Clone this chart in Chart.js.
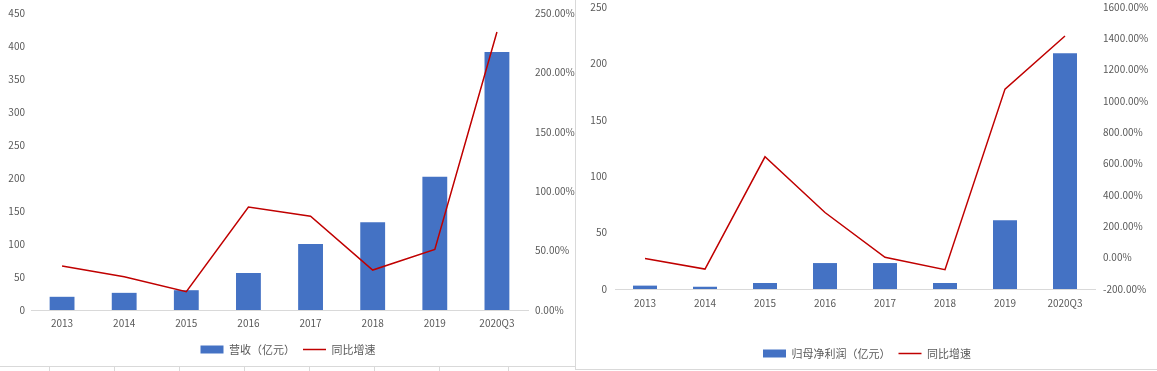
<!DOCTYPE html>
<html>
<head>
<meta charset="utf-8">
<script src="https://cdn.jsdelivr.net/npm/chart.js@4"></script>
<style>
  body { margin: 0; background: #fff; }
  #wrap { position: relative; width: 1157px; height: 371px; overflow: hidden; }
  #left { position: absolute; left: 0; top: 0; width: 576px; height: 371px; }
  #right { position: absolute; left: 577px; top: -7px; width: 580px; height: 378px; }
  .vline { position: absolute; left: 575px; top: 0; width: 1px; height: 370px; background: #d9d9d9; }
  .hline1 { position: absolute; left: 0; top: 366px; width: 575px; height: 1px; background: #d9d9d9; }
  .hline2 { position: absolute; left: 575px; top: 369px; width: 582px; height: 1px; background: #d9d9d9; }
  .tick { position: absolute; top: 366px; width: 1px; height: 5px; background: #d9d9d9; }
</style>
</head>
<body>
<div id="wrap">
  <canvas id="left" width="576" height="371"></canvas>
  <canvas id="right" width="580" height="378"></canvas>
  <div class="vline"></div>
  <div class="hline1"></div>
  <div class="hline2"></div>
</div>
<script>
// categories
const years = ['2013', '2014', '2015', '2016', '2017', '2018', '2019', '2020Q3'];

// left: revenue (亿元) and yoy growth (%)
const revenue = [20, 26, 30, 56, 100, 133, 202, 391];
const revenueGrowth = [37, 28, 15.4, 86.7, 79, 33.6, 51, 234];

// right: net profit attributable to parent (亿元) and yoy growth (%)
const netProfit = [3, 2, 5.3, 23, 23, 5.3, 61, 209];
const profitGrowth = [-5, -73, 644, 288, 2, -77, 1076, 1415];

// spreadsheet cell gridline ticks under the left chart
[49, 114, 179, 244, 309, 374, 439, 508].forEach(x => {
    const d = document.createElement('div');
    d.className = 'tick';
    d.style.left = x + 'px';
    document.getElementById('wrap').appendChild(d);
});

const FONT = "'Noto Sans CJK SC', 'Noto Sans', sans-serif";
const TXT = '#595959';
const BLUE = '#4472C4';
const RED = '#C00000';

function makeChart(id, opts) {
    const ctx = document.getElementById(id).getContext('2d');
    return new Chart(ctx, {
        type: 'bar',
        data: {
            labels: years,
            datasets: [{
                type: 'bar',
                label: opts.barLabel,
                data: opts.bars,
                backgroundColor: BLUE,
                borderWidth: 0,
                barPercentage: 0.4,
                categoryPercentage: 1,
                pointStyle: 'rect',
                yAxisID: 'y',
                order: 1
            }, {
                type: 'line',
                label: '同比增速',
                data: opts.line,
                borderColor: RED,
                backgroundColor: RED,
                borderWidth: 1.5,
                pointRadius: 0,
                pointStyle: 'line',
                tension: 0,
                yAxisID: 'y1',
                order: 0
            }]
        },
        options: {
            responsive: false,
            animation: false,
            layout: { padding: { top: opts.top, bottom: opts.padBottom, left: 0, right: 0 } },
            plugins: {
                tooltip: { enabled: false },
                legend: {
                    position: 'bottom',
                    labels: {
                        usePointStyle: true,
                        pointStyleWidth: 23,
                        boxHeight: 8,
                        padding: 8,
                        color: TXT,
                        font: { family: FONT, size: 11 },
                        sort: (a, b) => a.datasetIndex - b.datasetIndex
                    }
                }
            },
            scales: {
                x: {
                    grid: { display: false, drawTicks: false },
                    border: { display: true, color: '#d9d9d9' },
                    ticks: { color: TXT, font: { family: FONT, size: 10 }, padding: opts.xPad, maxRotation: 0 },
                    afterFit: s => { s.height = opts.xHeight; }
                },
                y: {
                    position: 'left',
                    min: opts.yMin, max: opts.yMax,
                    grid: { display: false, drawTicks: false },
                    border: { display: false },
                    ticks: { stepSize: opts.yStep, color: TXT, font: { family: FONT, size: 10 }, padding: opts.yPad },
                    afterFit: s => { s.width = opts.yWidth; }
                },
                y1: {
                    position: 'right',
                    min: opts.y1Min, max: opts.y1Max,
                    grid: { display: false, drawTicks: false },
                    border: { display: false },
                    ticks: {
                        stepSize: opts.y1Step, color: TXT, font: { family: FONT, size: 10 }, padding: opts.y1Pad,
                        callback: v => v.toFixed(2) + '%'
                    },
                    afterFit: s => { s.width = opts.y1Width; }
                }
            }
        }
    });
}

makeChart('left', {
    barLabel: '营收（亿元）',
    bars: revenue, line: revenueGrowth,
    top: 11, padBottom: 6, xHeight: 26, xPad: 7,
    yMin: 0, yMax: 450, yStep: 50, yWidth: 31, yPad: 6,
    y1Min: 0, y1Max: 250, y1Step: 50, y1Width: 48, y1Pad: 7
});

makeChart('right', {
    barLabel: '归母净利润（亿元）',
    bars: netProfit, line: profitGrowth,
    top: 0, padBottom: 2, xHeight: 51, xPad: 8,
    yMin: 0, yMax: 250, yStep: 50, yWidth: 38, yPad: 8,
    y1Min: -200, y1Max: 1600, y1Step: 200, y1Width: 62, y1Pad: 8
});
</script>
</body>
</html>
